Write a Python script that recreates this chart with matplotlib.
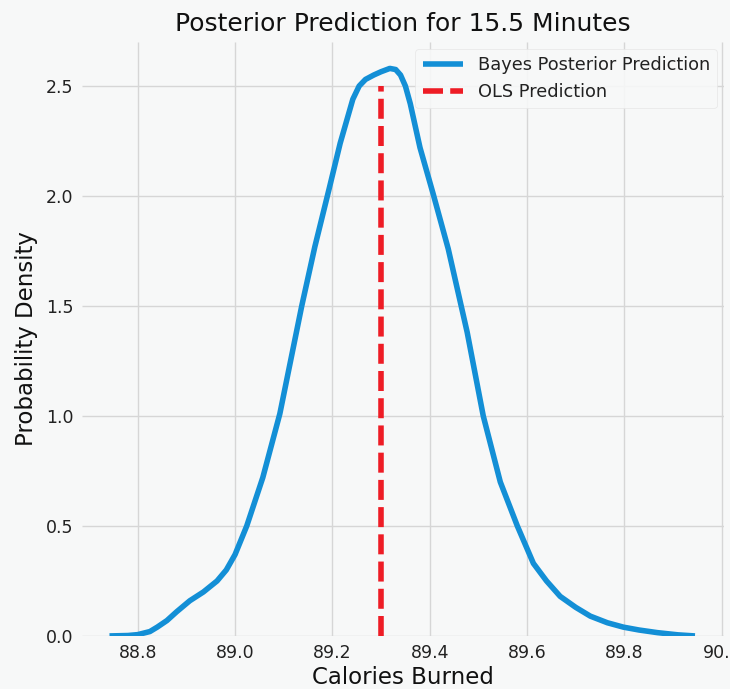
import matplotlib.pyplot as plt

plt.style.use('fivethirtyeight')

# posterior prediction density
calories = [88.742, 88.78, 88.80, 88.825, 88.84, 88.86, 88.88, 88.907, 88.935,
            88.963, 88.982, 89.0, 89.024, 89.057, 89.092, 89.137, 89.164,
            89.193, 89.216, 89.242, 89.255, 89.268, 89.285, 89.30, 89.318,
            89.33, 89.34, 89.35, 89.36, 89.38, 89.407, 89.438, 89.477,
            89.51, 89.545, 89.58, 89.613, 89.64, 89.668, 89.70, 89.73,
            89.765, 89.798, 89.83, 89.868, 89.91, 89.945]
density = [0.0, 0.002, 0.006, 0.02, 0.04, 0.07, 0.11, 0.16, 0.20,
           0.25, 0.30, 0.37, 0.50, 0.72, 1.01, 1.50, 1.77,
           2.03, 2.24, 2.44, 2.50, 2.53, 2.55, 2.565, 2.58,
           2.575, 2.55, 2.50, 2.42, 2.22, 2.01, 1.76, 1.38,
           1.00, 0.70, 0.50, 0.33, 0.25, 0.18, 0.13, 0.09,
           0.06, 0.04, 0.027, 0.015, 0.005, 0.0]

ols_prediction = 89.30
ols_top = 2.5

bg = '#f7f8f8'
fig = plt.figure(figsize=(7.3, 6.89), dpi=100, facecolor=bg)
ax = fig.add_axes([0.112, 0.077, 0.880, 0.862], facecolor=bg)

ax.plot(calories, density, color='#138fd6', lw=4, solid_joinstyle='round',
        label='Bayes Posterior Prediction')
ax.vlines(ols_prediction, ymin=0, ymax=ols_top, color='#ee1c25', lw=4,
          linestyles=(0, (3.6, 1.3)), label='OLS Prediction')

ax.set_xlim(88.685, 90.005)
ax.set_ylim(0, 2.70)
ax.set_xticks([88.8, 89.0, 89.2, 89.4, 89.6, 89.8, 90.0])
ax.set_yticks([0.0, 0.5, 1.0, 1.5, 2.0, 2.5])
ax.tick_params(labelsize=12.5, colors='#222222', pad=6)
ax.grid(True, color='#d6d6d6', lw=1)
for s in ax.spines.values():
    s.set_visible(False)

ax.set_title('Posterior Prediction for 15.5 Minutes', fontsize=18, color='#111111', pad=8)
ax.set_xlabel('Calories Burned', fontsize=16.5, color='#111111', labelpad=3)
ax.set_ylabel('Probability Density', fontsize=16.5, color='#111111', labelpad=6)

ax.legend(loc='upper right', fontsize=12.8, facecolor=bg, framealpha=0.9,
          edgecolor='#e4e4e4', labelcolor='#222222', handlelength=2.3,
          borderaxespad=0.4)

fig.savefig('out.png', dpi=100, facecolor=bg)
